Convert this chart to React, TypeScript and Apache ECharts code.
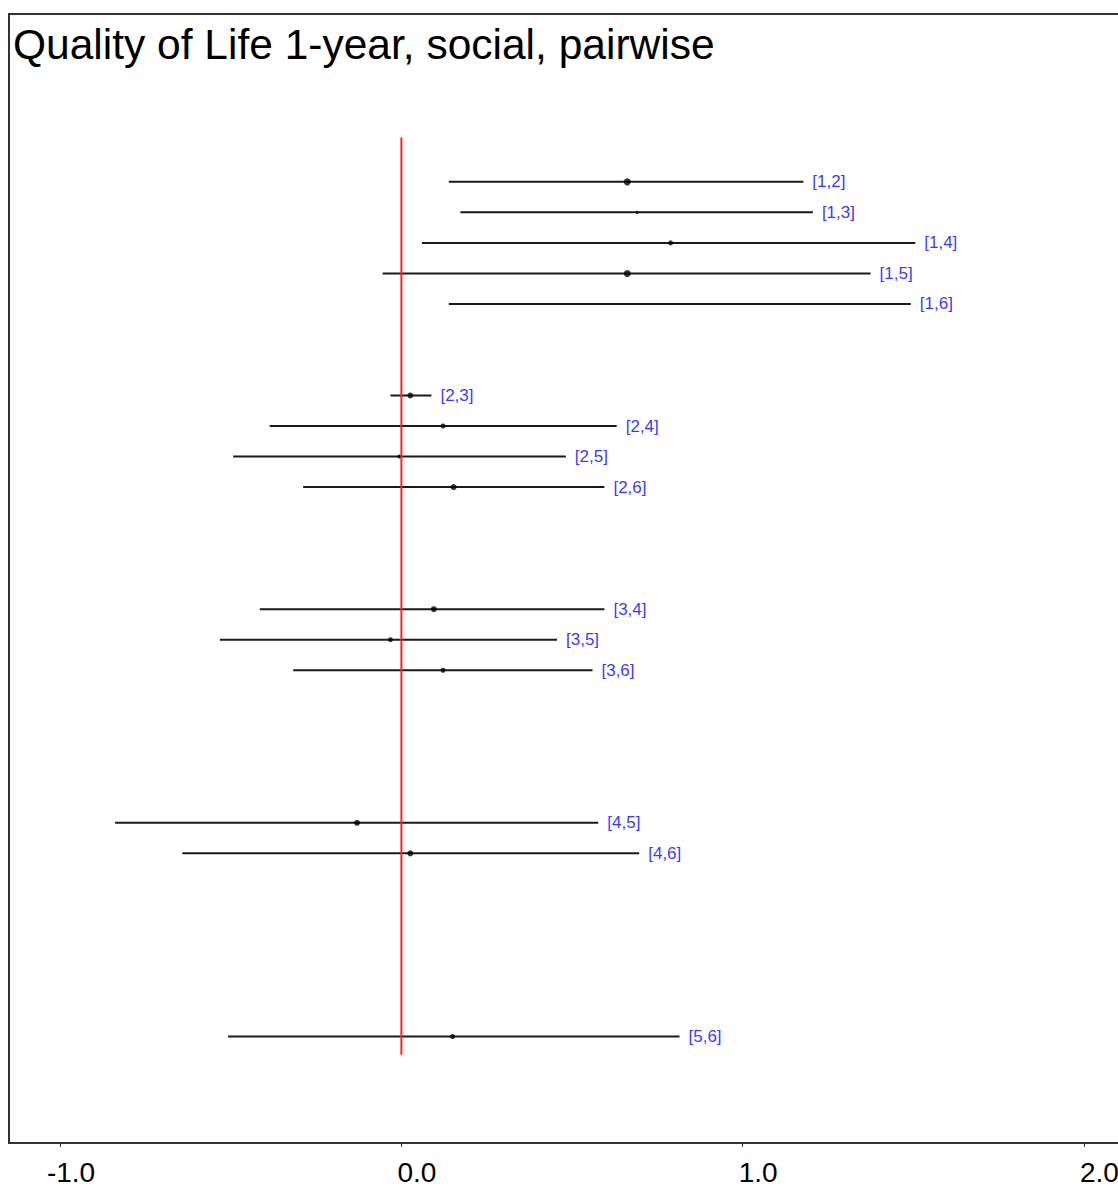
import React, { useEffect, useRef } from "react";
import * as echarts from "echarts";

const titleText = "Quality of Life 1-year, social, pairwise";
const comparisons = ["[1,2]", "[1,3]", "[1,4]", "[1,5]", "[1,6]", "[2,3]", "[2,4]", "[2,5]", "[2,6]", "[3,4]", "[3,5]", "[3,6]", "[4,5]", "[4,6]", "[5,6]"];
const rowPos = [0, 1, 2, 3, 4, 7, 8, 9, 10, 14, 15, 16, 21, 22, 28];
const lower = [0.139, 0.173, 0.06, -0.055, 0.139, -0.032, -0.386, -0.493, -0.288, -0.415, -0.532, -0.317, -0.839, -0.642, -0.508];
const upper = [1.178, 1.206, 1.506, 1.375, 1.493, 0.088, 0.631, 0.482, 0.595, 0.595, 0.456, 0.56, 0.577, 0.697, 0.815];
const estimate: (number | null)[] = [0.662, 0.691, 0.789, 0.662, null, 0.026, 0.122, -0.006, 0.153, 0.095, -0.032, 0.122, -0.13, 0.026, 0.15];
const pointSize = [7, 3, 5, 7, 0, 6, 5, 4, 6, 6, 5, 5, 6, 6, 5];
const tickValues = [-1, 0, 1, 2];
const refLineY = [-1.45, 28.6];

const FONT = "'Liberation Sans', Arial, sans-serif";

export default function App() {
  const ref = useRef<HTMLDivElement>(null);
  useEffect(() => {
    if (!ref.current) return;
    const chart = echarts.init(ref.current, null, { renderer: "svg" });
    const xMin = -1.15;
    const xMax = 2.15;
    const shift = 35 / 341.2;
    const ciData = comparisons.map((_, i) => [lower[i], upper[i], rowPos[i]]);
    const ptData = comparisons
      .map((n, i) => (estimate[i] === null ? null : { value: [estimate[i], rowPos[i]], symbolSize: pointSize[i] }))
      .filter((d) => d !== null);
    const lblData = comparisons.map((n, i) => ({ name: n, value: [upper[i], rowPos[i]] }));
    chart.setOption({
      animation: false,
      backgroundColor: "#fff",
      grid: {
        left: 9,
        top: 14,
        width: 1126,
        height: 1130,
        show: true,
        borderColor: "#333",
        borderWidth: 2,
        backgroundColor: "transparent",
      },
      graphic: [
        {
          type: "text",
          x: 13,
          y: 44,
          style: {
            text: titleText,
            fontSize: 42.5,
            fontFamily: FONT,
            fill: "#000",
            verticalAlign: "middle",
            align: "left",
          },
        },
      ],
      xAxis: [
        {
          type: "value",
          min: xMin,
          max: xMax,
          position: "bottom",
          axisLine: { show: false, onZero: false },
          axisTick: { show: true, customValues: tickValues, length: 4, lineStyle: { color: "#333", width: 1 } },
          axisLabel: { show: false },
          splitLine: { show: false },
        },
        {
          type: "value",
          min: xMin - shift,
          max: xMax - shift,
          position: "bottom",
          axisLine: { show: false, onZero: false },
          axisTick: { show: false },
          axisLabel: {
            show: true,
            customValues: tickValues,
            align: "right",
            margin: 15,
            fontSize: 28,
            fontFamily: FONT,
            color: "#000",
            formatter: (v: number) => v.toFixed(1),
          },
          splitLine: { show: false },
        },
      ],
      yAxis: {
        type: "value",
        inverse: true,
        min: -5.499,
        max: 31.489,
        show: false,
      },
      series: [
        {
          type: "custom",
          xAxisIndex: 0,
          data: ciData,
          renderItem: (params: any, api: any) => {
            const a = api.coord([api.value(0), api.value(2)]);
            const b = api.coord([api.value(1), api.value(2)]);
            return {
              type: "line",
              shape: { x1: a[0], y1: a[1], x2: b[0], y2: b[1] },
              style: { stroke: "#1a1a1a", lineWidth: 2 },
            };
          },
        },
        {
          type: "line",
          xAxisIndex: 0,
          data: [[0, refLineY[0]], [0, refLineY[1]]],
          symbol: "none",
          lineStyle: { color: "#ff2020", width: 2 },
        },
        {
          type: "scatter",
          xAxisIndex: 0,
          data: ptData,
          symbol: "circle",
          itemStyle: { color: "#000" },
        },
        {
          type: "scatter",
          xAxisIndex: 0,
          data: lblData,
          symbolSize: 0,
          label: {
            show: true,
            position: "right",
            distance: 9,
            formatter: (p: any) => p.name,
            fontSize: 17,
            fontFamily: FONT,
            color: "#0000ff",
          },
        },
      ],
    });
    return () => chart.dispose();
  }, []);
  return (
    <div style={{ position: "absolute", left: 0, top: 0, width: 1118, height: 1186, overflow: "hidden", background: "#fff" }}>
      <div ref={ref} style={{ width: 1150, height: 1186 }} />
    </div>
  );
}
